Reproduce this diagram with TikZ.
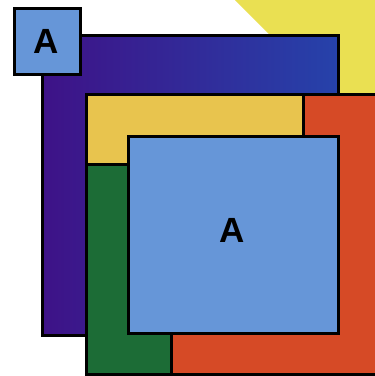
\documentclass[tikz,border=0pt]{standalone}
\usepackage{fontspec}
\setsansfont{Liberation Sans}
\begin{document}
\begin{tikzpicture}[x=1pt,y=-1pt,
  box/.style={draw=black,line width=3pt,line join=miter},
  letter/.style={font=\sffamily\bfseries\fontsize{35}{35}\selectfont,text=black,inner sep=0pt}]
\definecolor{lblue}{RGB}{102,150,216}
\definecolor{dpurple}{RGB}{62,18,135}
\definecolor{dblue}{RGB}{38,66,170}
\definecolor{ltyellow}{RGB}{234,224,82}
\definecolor{myellow}{RGB}{232,196,78}
\definecolor{mred}{RGB}{214,74,38}
\definecolor{mgreen}{RGB}{28,108,54}
\fill[white] (0,0) rectangle (375,376);
\useasboundingbox (0,0) rectangle (375,376);
\begin{scope}
\clip (0,0) rectangle (375,376);
% yellow triangle corner
\fill[ltyellow] (235,0) -- (380,0) -- (380,145) -- cycle;
% purple box
\draw[box,left color=dpurple,right color=dblue] (42,35) rectangle (338,335);
% small A box
\draw[box,fill=lblue] (14,8) rectangle (80,74);
% red box
\draw[box,fill=mred] (86,94) rectangle (395,374.5);
% yellow box
\draw[box,fill=myellow] (86,94) rectangle (303,164);
% green box
\draw[box,fill=mgreen] (86,164) rectangle (171,374.5);
% big blue box
\draw[box,fill=lblue] (128,136) rectangle (338,333);
\end{scope}
\node[letter] (a1) at (46,41.5) {A};
\node[letter] (a2) at (232,230) {A};
\end{tikzpicture}
\end{document}
